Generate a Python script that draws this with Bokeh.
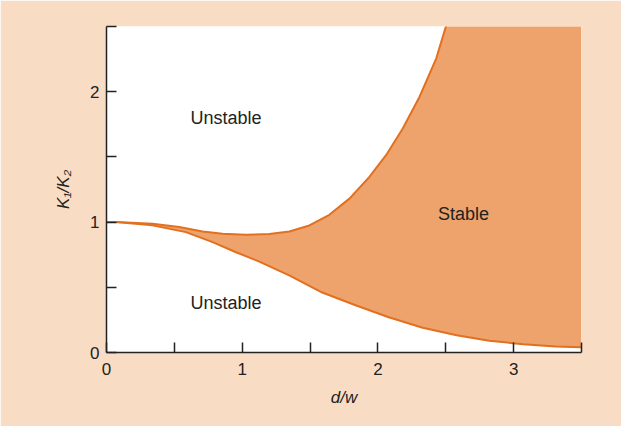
import numpy as np
from bokeh.plotting import figure
from bokeh.models import FixedTicker, Range1d, Label
from bokeh.embed import file_html
from bokeh.resources import INLINE

# Data
upper_x = [0.0, 0.069, 0.339, 0.536, 0.708, 0.855, 1.028, 1.2, 1.347, 1.495, 1.642,
           1.79, 1.937, 2.06, 2.183, 2.306, 2.43, 2.503]
upper_y = [1.0, 1.0, 0.987, 0.962, 0.928, 0.91, 0.903, 0.908, 0.928, 0.974, 1.056,
           1.18, 1.346, 1.513, 1.718, 1.96, 2.256, 2.508]
lower_x = [0.0, 0.069, 0.339, 0.585, 0.782, 0.954, 1.126, 1.35, 1.59, 1.84, 2.08,
           2.33, 2.58, 2.82, 3.07, 3.31, 3.5]
lower_y = [1.0, 1.0, 0.975, 0.923, 0.846, 0.769, 0.697, 0.59, 0.46, 0.36, 0.27,
           0.19, 0.133, 0.09, 0.064, 0.046, 0.04]

x_ticks = [0, 0.5, 1, 1.5, 2, 2.5, 3, 3.5]
x_tick_labels = {0: "0", 0.5: "", 1: "1", 1.5: "", 2: "2", 2.5: "", 3: "3", 3.5: ""}
y_ticks = [0, 0.5, 1, 1.5, 2, 2.5]
y_tick_labels = {0: "0", 0.5: "", 1: "1", 1.5: "", 2: "2", 2.5: ""}

x_min, x_max = 0, 3.5
y_min, y_max = 0, 2.5

annotations = [
    ("Unstable", 0.88, 1.8),
    ("Unstable", 0.88, 0.377),
    ("Stable", 2.63, 1.06),
]

BG = "#F9DCC4"
FILL = "#EDA36B"
LINE = "#E2701F"
INK = "#222222"
FONT = "Liberation Sans"

p = figure(width=621, height=426, output_backend="svg", toolbar_location=None,
           x_range=Range1d(x_min, x_max), y_range=Range1d(y_min, y_max),
           min_border_left=106, min_border_right=40, min_border_top=26, min_border_bottom=74)
p.border_fill_color = BG
p.background_fill_color = "white"
p.outline_line_color = None
p.xgrid.visible = False
p.ygrid.visible = False

# stable region polygon (lower curve forward, upper curve back, closing beyond the top)
top_fill = max(upper_y)
px = list(lower_x) + [x_max, x_max] + list(reversed(upper_x))
py = list(lower_y) + [lower_y[-1], top_fill] + list(reversed(upper_y))
p.patch(px, py, fill_color=FILL, line_color=None)

p.line(upper_x, upper_y, line_color=LINE, line_width=2, line_join="round")
p.line(lower_x, lower_y, line_color=LINE, line_width=2, line_join="round")

for ax, ticks, labels in ((p.xaxis[0], x_ticks, x_tick_labels), (p.yaxis[0], y_ticks, y_tick_labels)):
    ax.ticker = FixedTicker(ticks=ticks)
    ax.major_label_overrides = labels
    ax.major_tick_in = 10
    ax.major_tick_out = 0
    ax.minor_tick_line_color = None
    ax.axis_line_color = INK
    ax.axis_line_width = 1.5
    ax.major_tick_line_color = INK
    ax.major_tick_line_width = 1.5
    ax.major_label_text_font = FONT
    ax.major_label_text_font_size = "17px"
    ax.major_label_text_color = INK
    ax.axis_label_text_font = FONT
    ax.axis_label_text_font_size = "17px"
    ax.axis_label_text_font_style = "italic"
    ax.axis_label_text_color = INK

p.xaxis.axis_label = "d/w"
p.xaxis.major_label_standoff = 10
p.xaxis.axis_label_standoff = 10
p.yaxis.axis_label = "K\u2081/K\u2082"
p.yaxis.major_label_standoff = 7
p.yaxis.axis_label_standoff = 14

for txt, xv, yv in annotations:
    p.add_layout(Label(x=xv, y=yv, text=txt, text_align="center", text_baseline="middle",
                       text_font=FONT, text_font_size="18px", text_color=INK))

open("out.html", "w").write(file_html(p, INLINE))
